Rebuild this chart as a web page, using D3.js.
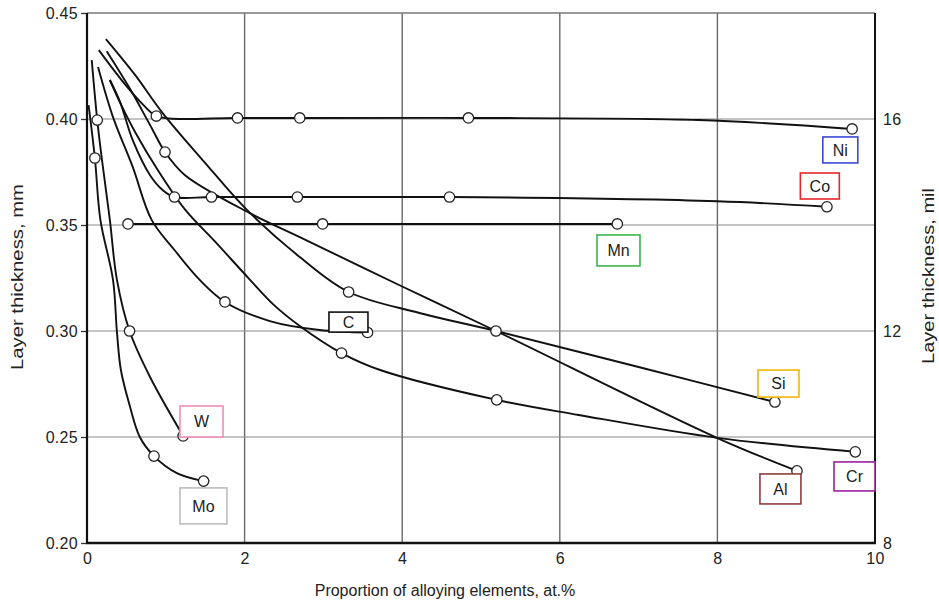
<!DOCTYPE html>
<html>
<head>
<meta charset="utf-8">
<script src="https://cdn.jsdelivr.net/npm/d3@7"></script>
<style>
  html, body { margin: 0; padding: 0; background: #fff; }
  svg { display: block; font-family: "Liberation Sans", Arial, Helvetica, sans-serif; }
</style>
</head>
<body>
<svg id="chart" width="939" height="607"></svg>
<script>
// Boride layer thickness vs. alloying element content (at.%), thickness in mm and mil.
const xTicks = [0, 2, 4, 6, 8, 10];
const yTicks = [0.20, 0.25, 0.30, 0.35, 0.40, 0.45];
const yTickLabels = ["0.20", "0.25", "0.30", "0.35", "0.40", "0.45"];
const milTicks = [8, 12, 16];

const elements = ["Ni", "Co", "Mn", "C", "Si", "Al", "Cr", "W", "Mo"];

// Curve traces [at.%, mm]
const niCurve = [[0.15,0.4325],[0.48,0.4165],[0.73,0.4061],[0.88,0.4014],[1.91,0.4005],[2.70,0.4005],[4.84,0.4005],[7.76,0.3995],[9.71,0.3953]];
const coCurve = [[0.29,0.4184],[0.42,0.4080],[0.58,0.3900],[0.80,0.3735],[0.96,0.3665],[1.11,0.3632],[1.58,0.3632],[2.67,0.3632],[4.60,0.3632],[8.00,0.3612],[9.39,0.3586]];
const mnCurve = [[0.52,0.3505],[2.99,0.3505],[6.73,0.3505]];
const cCurve  = [[0.14,0.4245],[0.33,0.4009],[0.58,0.3774],[0.82,0.3524],[1.11,0.3382],[1.43,0.3241],[1.75,0.3137],[2.32,0.3047],[2.95,0.3005],[3.56,0.2993]];
const siCurve = [[0.24,0.4377],[0.61,0.4208],[0.96,0.4028],[1.49,0.3797],[2.03,0.3571],[2.70,0.3349],[3.32,0.3184],[4.22,0.3085],[5.19,0.3000],[7.00,0.2830],[8.73,0.2665]];
const alCurve = [[0.25,0.4320],[0.54,0.4146],[0.80,0.3972],[0.99,0.3844],[1.24,0.3736],[2.06,0.3557],[2.70,0.3443],[3.96,0.3217],[5.19,0.3000],[8.00,0.2495],[9.01,0.2340]];
const crCurve = [[0.29,0.4184],[0.44,0.4062],[0.61,0.3939],[0.89,0.3764],[1.24,0.3575],[1.62,0.3424],[2.06,0.3245],[2.36,0.3127],[2.70,0.3024],[3.23,0.2896],[3.72,0.2816],[5.20,0.2675],[6.24,0.2604],[8.00,0.2496],[9.75,0.2430]];
const wCurve  = [[0.06,0.4278],[0.13,0.3995],[0.19,0.3807],[0.29,0.3524],[0.38,0.3241],[0.54,0.3000],[0.80,0.2783],[1.22,0.2505]];
const moCurve = [[0.02,0.4066],[0.10,0.3816],[0.17,0.3524],[0.33,0.3241],[0.38,0.2995],[0.43,0.2816],[0.54,0.2651],[0.67,0.2500],[0.85,0.2410],[1.14,0.2330],[1.48,0.2292]];

// Measured points (open circles)
const niPoints = [[0.88,0.4014],[1.91,0.4005],[2.70,0.4005],[4.84,0.4005],[9.71,0.3953]];
const coPoints = [[1.11,0.3632],[1.58,0.3632],[2.67,0.3632],[4.60,0.3632],[9.39,0.3586]];
const mnPoints = [[0.52,0.3505],[2.99,0.3505],[6.73,0.3505]];
const cPoints  = [[1.75,0.3137],[3.56,0.2993]];
const siPoints = [[3.32,0.3184],[5.19,0.3000],[8.73,0.2665]];
const alPoints = [[0.99,0.3844],[9.01,0.2340]];
const crPoints = [[3.23,0.2896],[5.20,0.2675],[9.75,0.2430]];
const wPoints  = [[0.13,0.3995],[0.54,0.3000],[1.22,0.2505]];
const moPoints = [[0.10,0.3816],[0.85,0.2410],[1.48,0.2292]];

const curves = [niCurve, coCurve, mnCurve, cCurve, siCurve, alCurve, crCurve, wCurve, moCurve];
const points = [niPoints, coPoints, mnPoints, cPoints, siPoints, alPoints, crPoints, wPoints, moPoints];

// Element tags: centre in data units, box size in px, border colour
const tagLayout = {
  Ni: {x: 9.56, y: 0.3854, w: 35, h: 26, color: "#3b49d4"},
  Co: {x: 9.30, y: 0.3684, w: 39, h: 26, color: "#e8262b"},
  Mn: {x: 6.745, y: 0.3380, w: 43, h: 31, color: "#3cb451"},
  C:  {x: 3.318, y: 0.3042, w: 39, h: 20, color: "#111111"},
  Si: {x: 8.775, y: 0.2752, w: 41, h: 27, color: "#f2b705"},
  Al: {x: 8.80, y: 0.2255, w: 41, h: 30, color: "#8b3f3f"},
  Cr: {x: 9.74, y: 0.2314, w: 41, h: 29, color: "#9a1f9e"},
  W:  {x: 1.453, y: 0.2573, w: 43, h: 31, color: "#f08cb8"},
  Mo: {x: 1.478, y: 0.2175, w: 47, h: 36, color: "#bdbdbd"}
};

const svg = d3.select("#chart");
const x = d3.scaleLinear().domain([0, 10]).range([87, 875]);
const y = d3.scaleLinear().domain([0.20, 0.45]).range([543, 13]);
const yMil = d3.scaleLinear().domain([8, 18]).range([543, 13]);

const textColor = "#222";

// Grid
const grid = svg.append("g");
grid.selectAll("line.v").data(xTicks.filter(d => d > 0 && d < 10)).join("line")
  .attr("x1", d => x(d)).attr("x2", d => x(d))
  .attr("y1", y(0.45)).attr("y2", y(0.20))
  .attr("stroke", "#6a6a6a").attr("stroke-width", 1.4);
grid.selectAll("line.h").data(yTicks.filter(d => d > 0.2 && d < 0.45)).join("line")
  .attr("x1", x(0)).attr("x2", x(10))
  .attr("y1", d => y(d)).attr("y2", d => y(d))
  .attr("stroke", "#8a8a8a").attr("stroke-width", 1.1);
// top edge (lighter)
grid.append("line")
  .attr("x1", x(0)).attr("x2", x(10)).attr("y1", y(0.45)).attr("y2", y(0.45))
  .attr("stroke", "#777").attr("stroke-width", 1.6);

// Axes
const fontTick = 16;
const leftAxis = d3.axisLeft(y).tickValues(yTicks).tickFormat((d, i) => yTickLabels[i]).tickSize(6).tickPadding(3);
const gLeft = svg.append("g").attr("transform", `translate(${x(0)},0)`).call(leftAxis);
const bottomAxis = d3.axisBottom(x).tickValues(xTicks).tickFormat(d3.format("d")).tickSize(0).tickPadding(10);
const gBottom = svg.append("g").attr("transform", `translate(0,${y(0.20)})`).call(bottomAxis);
const rightAxis = d3.axisRight(yMil).tickValues(milTicks).tickFormat(d3.format("d")).tickSize(0).tickPadding(8);
const gRight = svg.append("g").attr("transform", `translate(${x(10)},0)`).call(rightAxis);

[gLeft, gBottom, gRight].forEach(g => {
  g.select(".domain").remove();
  g.selectAll("text").attr("fill", textColor).style("font-size", fontTick + "px")
    .style("font-family", "'Liberation Sans', Arial, sans-serif").style("letter-spacing", "0.3px");
  g.selectAll(".tick line").attr("stroke", "#333").attr("stroke-width", 1.3);
});
gLeft.selectAll(".tick text").attr("dy", "0.36em");
gRight.selectAll(".tick text").attr("dy", "0.36em");

// Frame lines
svg.append("line").attr("x1", x(0)).attr("x2", x(0)).attr("y1", y(0.45)).attr("y2", y(0.20))
  .attr("stroke", "#111").attr("stroke-width", 2.2);
svg.append("line").attr("x1", x(0) - 1).attr("x2", x(10) + 1).attr("y1", y(0.20)).attr("y2", y(0.20))
  .attr("stroke", "#111").attr("stroke-width", 2.4);
svg.append("line").attr("x1", x(10)).attr("x2", x(10)).attr("y1", y(0.45)).attr("y2", y(0.20))
  .attr("stroke", "#111").attr("stroke-width", 2);

// Axis titles
svg.append("text").attr("transform", `translate(23,277) rotate(-90)`)
  .attr("text-anchor", "middle").attr("fill", textColor).style("font-size", "16px")
  .attr("textLength", 186).attr("lengthAdjust", "spacingAndGlyphs")
  .text("Layer thickness, mm");
svg.append("text").attr("transform", `translate(934,276) rotate(-90)`)
  .attr("text-anchor", "middle").attr("fill", textColor).style("font-size", "16px")
  .attr("textLength", 176).attr("lengthAdjust", "spacingAndGlyphs")
  .text("Layer thickness, mil");
svg.append("text").attr("x", 445).attr("y", 596)
  .attr("text-anchor", "middle").attr("fill", textColor).style("font-size", "16px")
  .text("Proportion of alloying elements, at.%");

// Curves
const line = d3.line().x(d => x(d[0])).y(d => y(d[1])).curve(d3.curveCatmullRom.alpha(0.5));
svg.append("g").selectAll("path").data(curves).join("path")
  .attr("d", d => line(d))
  .attr("fill", "none").attr("stroke", "#111").attr("stroke-width", 1.9);

// Measured points
svg.append("g").selectAll("circle").data(points.flat()).join("circle")
  .attr("cx", d => x(d[0])).attr("cy", d => y(d[1])).attr("r", 5.2)
  .attr("fill", "#fff").attr("stroke", "#222").attr("stroke-width", 1.3);

// Element tags
const tags = svg.append("g").selectAll("g").data(elements).join("g")
  .attr("transform", d => `translate(${x(tagLayout[d].x)},${y(tagLayout[d].y)})`);
tags.append("rect")
  .attr("x", d => -tagLayout[d].w / 2).attr("y", d => -tagLayout[d].h / 2)
  .attr("width", d => tagLayout[d].w).attr("height", d => tagLayout[d].h)
  .attr("fill", "#fff").attr("stroke", d => tagLayout[d].color).attr("stroke-width", 1.6);
tags.append("text")
  .attr("text-anchor", "middle").attr("dy", "0.36em")
  .attr("fill", textColor).style("font-size", "16px")
  .text(d => d);
</script>
</body>
</html>
